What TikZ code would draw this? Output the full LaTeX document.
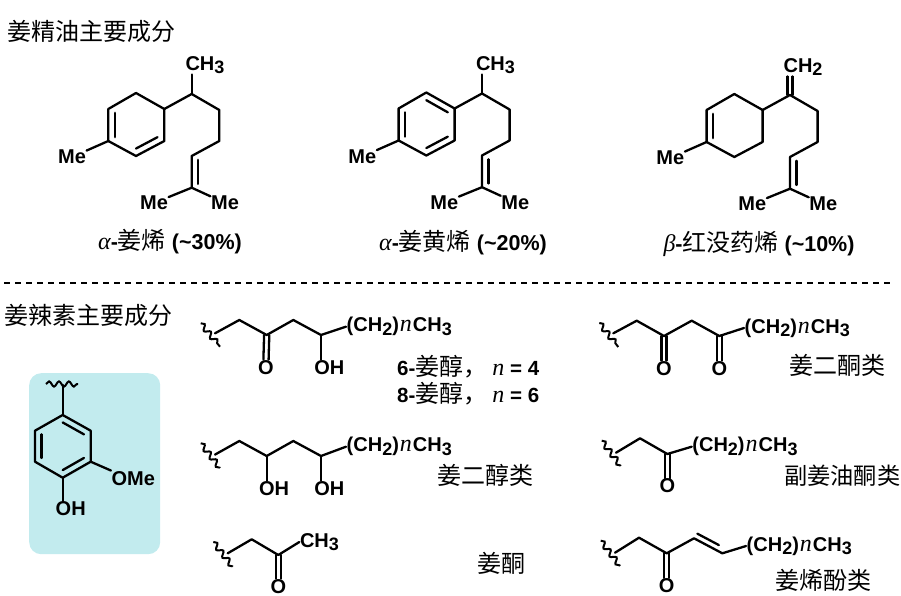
\documentclass[tikz,border=0pt]{standalone}
\usepackage{fontspec}
\setmainfont{Liberation Sans}
\newfontfamily\cjk{Noto Sans CJK SC}
\newfontfamily\tnr{Liberation Serif}
\usetikzlibrary{calc, decorations.pathmorphing}
\definecolor{boxblue}{RGB}{194,235,238}
\tikzset{
    bond/.style={line width=2.3pt, line cap=round, line join=round},
    wavybond/.style={line width=2pt, decorate, decoration={snake, segment length=9.9pt, amplitude=2.6pt}},
    atom/.style={inner sep=0.5pt, font=\fontsize{20}{22}\selectfont\bfseries},
    title/.style={inner sep=0pt, font=\fontsize{24}{26}\selectfont\cjk},
    caption/.style={inner sep=0pt, font=\fontsize{21.5}{24}\selectfont\bfseries},
}
\newcommand{\innerbond}[3]{\draw[bond] ($(#1)!0.24!(#3)$) -- ($(#2)!0.24!(#3)$);}
\newcommand{\carbonyl}[2]{\draw[bond] ([xshift=-2.6pt]#1) -- ([xshift=-2.6pt]#2.north); \draw[bond] ([xshift=2.6pt]#1) -- ([xshift=2.6pt]#2.north);}
\newcommand{\subsc}[1]{\raisebox{-3.5pt}{\fontsize{18}{18}\selectfont #1}}
\newcommand{\nit}{{\fontsize{24}{24}\selectfont\tnr\mdseries\itshape n}}
\newcommand{\greek}[1]{{\fontsize{24}{24}\selectfont\tnr\mdseries\itshape #1}}
\newcommand{\han}[1]{{\fontsize{24}{24}\selectfont\cjk\mdseries #1}}
\newcommand{\ginchain}{(CH\subsc{2})\hspace{1pt}\nit\hspace{1pt}CH\subsc{3}}
\begin{document}
\begin{tikzpicture}[x=1pt,y=-1pt]
    \useasboundingbox (0,0) rectangle (901,596);
    \node[title, anchor=west] (oiltitle) at (7,31) {姜精油主要成分};
    \node[title, anchor=west] (gingertitle) at (4,315) {姜辣素主要成分};
    \coordinate (dashl) at (4,283);
    \coordinate (dashr) at (890,283);
    \draw[line width=2pt, dash pattern=on 6pt off 5pt] (dashl) -- (dashr);
    % terpene skeleton, three times
    \foreach \mol/\dx/\dy in {a/0/0, b/290.3/-0.5, c/598.3/1}{
        \begin{scope}[shift={(\dx,\dy)}]
            \coordinate (\mol1) at (136,93);
            \coordinate (\mol2) at (164.3,109);
            \coordinate (\mol3) at (164.3,141);
            \coordinate (\mol4) at (136,156);
            \coordinate (\mol5) at (108.3,141);
            \coordinate (\mol6) at (108.3,109);
            \coordinate (\mol o) at (136,125);
            \coordinate (\mol t1) at (191.7,94);
            \coordinate (\mol t2) at (219.3,110);
            \coordinate (\mol t3) at (219.3,141);
            \coordinate (\mol t4) at (191.7,156);
            \coordinate (\mol t5) at (191.7,187.7);
            \coordinate (\mol tc) at (219.3,172);
            \node[atom] (\mol me) at (72,157) {Me};
            \node[atom] (\mol mel) at (154,203) {Me};
            \node[atom] (\mol mer) at (225,203) {Me};
            \draw[bond] (\mol1) -- (\mol2) -- (\mol3) -- (\mol4) -- (\mol5) -- (\mol6) -- cycle;
            \draw[bond] (\mol5) -- (\mol me);
            \draw[bond] (\mol2) -- (\mol t1) -- (\mol t2) -- (\mol t3) -- (\mol t4) -- (\mol t5);
            \draw[bond] (\mol mel) -- (\mol t5) -- (\mol mer);
            \innerbond{\mol t4}{\mol t5}{\mol tc}
            \innerbond{\mol5}{\mol6}{\mol o}
        \end{scope}
    }
    \innerbond{a3}{a4}{ao}
    \innerbond{b3}{b4}{bo}
    \innerbond{b1}{b2}{bo}
    \node[atom] (ach) at (205,65) {CH\subsc{3}};
    \draw[bond] (at1) -- (at1 |- ach.south);
    \node[atom] (bch) at (495.5,65) {CH\subsc{3}};
    \draw[bond] (bt1) -- (bt1 |- bch.south);
    \node[atom] (cch) at (803,67) {CH\subsc{2}};
    \draw[bond] ([xshift=-2.4pt]ct1) -- ([xshift=-2.4pt]ct1 |- cch.south);
    \draw[bond] ([xshift=2.4pt]ct1) -- ([xshift=2.4pt]ct1 |- cch.south);
    \node[caption] (acap) at (170,242) {\greek{α}-\han{姜烯} (\textasciitilde 30\%)};
    \node[caption] (bcap) at (463,243) {\greek{α}-\han{姜黄烯} (\textasciitilde 20\%)};
    \node[caption] (ccap) at (759,244) {\greek{β}-\han{红没药烯} (\textasciitilde 10\%)};
    % guaiacyl box
    \node[fill=boxblue, rounded corners=12pt, minimum width=131pt, minimum height=181pt, inner sep=0pt] (gbox) at (94.7,463.7) {};
    \coordinate (g1) at (62.7,415);
    \coordinate (g2) at (90.7,430.7);
    \coordinate (g3) at (90.7,461.7);
    \coordinate (g4) at (62.7,477.7);
    \coordinate (g5) at (35,461.7);
    \coordinate (g6) at (35,430.7);
    \coordinate (go) at (62.7,446);
    \coordinate (gtop) at (62.7,385);
    \coordinate (gwl) at (46,384);
    \coordinate (gwr) at (78,384);
    \draw[bond] (g1) -- (g2) -- (g3) -- (g4) -- (g5) -- (g6) -- cycle;
    \innerbond{g1}{g2}{go}
    \innerbond{g3}{g4}{go}
    \innerbond{g5}{g6}{go}
    \draw[bond] (g1) -- (gtop);
    \draw[wavybond] (gwl) -- (gwr);
    \node[atom] (gome) at (133.3,478.3) {OMe};
    \node[atom] (goh) at (70.7,509) {OH};
    \draw[bond] (g3) -- (gome.north west);
    \draw[bond] (g4) -- (g4 |- goh.north);
    % gingerol
    \coordinate (pw1) at (200.7,323.3);
    \coordinate (pw2) at (220,346.7);
    \coordinate (p1) at (215,333.3);
    \coordinate (p2) at (239.3,320);
    \coordinate (p3) at (266.7,335);
    \coordinate (p4) at (293.3,320);
    \coordinate (p5) at (321,335);
    \node[atom] (po) at (266,367.3) {O};
    \node[atom] (poh) at (329.3,367.3) {OH};
    \node[atom, anchor=west] (pch) at (346,326.7) {\ginchain};
    \draw[wavybond] (pw1) -- (pw2);
    \draw[bond] (p1) -- (p2) -- (p3) -- (p4) -- (p5) -- (pch.west);
    \carbonyl{p3}{po}
    \draw[bond] (p5) -- (p5 |- poh.north);
    \node[caption, anchor=west, font=\fontsize{20.5}{24}\selectfont\bfseries] (plab1) at (397,366.5) {6-\han{姜醇，}\hspace{5pt}\nit{} = 4};
    \node[caption, anchor=west, font=\fontsize{20.5}{24}\selectfont\bfseries] (plab2) at (397,394) {8-\han{姜醇，}\hspace{5pt}\nit{} = 6};
    % gingerdiol
    \coordinate (qw1) at (200.7,443.3);
    \coordinate (qw2) at (220,468);
    \coordinate (q1) at (215,454.6);
    \coordinate (q2) at (239.3,441);
    \coordinate (q3) at (266.7,456);
    \coordinate (q4) at (293.3,441);
    \coordinate (q5) at (321,456);
    \node[atom] (qoh1) at (274,488.3) {OH};
    \node[atom] (qoh2) at (329.3,488.3) {OH};
    \node[atom, anchor=west] (qch) at (346,446.7) {\ginchain};
    \draw[wavybond] (qw1) -- (qw2);
    \draw[bond] (q1) -- (q2) -- (q3) -- (q4) -- (q5) -- (qch.west);
    \draw[bond] (q3) -- (q3 |- qoh1.north);
    \draw[bond] (q5) -- (q5 |- qoh2.north);
    \node[title] (qlab) at (485,475) {姜二醇类};
    % zingerone
    \coordinate (rw1) at (213.3,542);
    \coordinate (rw2) at (232.7,566.7);
    \coordinate (r1) at (227.7,553.3);
    \coordinate (r2) at (251.7,539.3);
    \coordinate (r3) at (278.3,555);
    \node[atom] (ro) at (278.3,586.3) {O};
    \node[atom] (rch) at (319.5,542) {CH\subsc{3}};
    \draw[wavybond] (rw1) -- (rw2);
    \draw[bond] (r1) -- (r2) -- (r3) -- (rch.west);
    \carbonyl{r3}{ro}
    \node[title] (rlab) at (501,563) {姜酮};
    % gingerdione
    \coordinate (sw1) at (599.3,323);
    \coordinate (sw2) at (618.3,347);
    \coordinate (s1) at (613.3,333.3);
    \coordinate (s2) at (636.7,320.7);
    \coordinate (s3) at (664,336);
    \coordinate (s4) at (691.7,320.7);
    \coordinate (s5) at (719.3,336);
    \node[atom] (so1) at (664,368.3) {O};
    \node[atom] (so2) at (719.3,368.3) {O};
    \node[atom, anchor=west] (sch) at (744,328) {\ginchain};
    \draw[wavybond] (sw1) -- (sw2);
    \draw[bond] (s1) -- (s2) -- (s3) -- (s4) -- (s5) -- (sch.west);
    \carbonyl{s3}{so1}
    \carbonyl{s5}{so2}
    \node[title] (slab) at (837,365) {姜二酮类};
    % paradol
    \coordinate (tw1) at (601.7,440.7);
    \coordinate (tw2) at (620.7,466);
    \coordinate (t1) at (616,452.7);
    \coordinate (t2) at (640,438.3);
    \coordinate (t3) at (667.3,454);
    \node[atom] (to) at (667.3,486) {O};
    \node[atom, anchor=west] (tch) at (691.7,446.7) {\ginchain};
    \draw[wavybond] (tw1) -- (tw2);
    \draw[bond] (t1) -- (t2) -- (t3) -- (tch.west);
    \carbonyl{t3}{to}
    \node[title, anchor=east, font=\fontsize{23.2}{26}\selectfont\cjk] (tlab) at (900.5,476) {副姜油酮类};
    % shogaol
    \coordinate (uw1) at (600.7,540.7);
    \coordinate (uw2) at (620,566);
    \coordinate (u1) at (615,552.7);
    \coordinate (u2) at (639,537.7);
    \coordinate (u3) at (666.7,553.3);
    \coordinate (u4) at (694,538.3);
    \coordinate (u5) at (722.3,553.3);
    \coordinate (uo) at (708,519);
    \node[atom] (uox) at (666.7,585.7) {O};
    \node[atom, anchor=west] (uch) at (746,546) {\ginchain};
    \draw[wavybond] (uw1) -- (uw2);
    \draw[bond] (u1) -- (u2) -- (u3) -- (u4) -- (u5) -- (uch.west);
    \carbonyl{u3}{uox}
    \innerbond{u4}{u5}{uo}
    \node[title] (ulab) at (823,580) {姜烯酚类};
\end{tikzpicture}
\end{document}
